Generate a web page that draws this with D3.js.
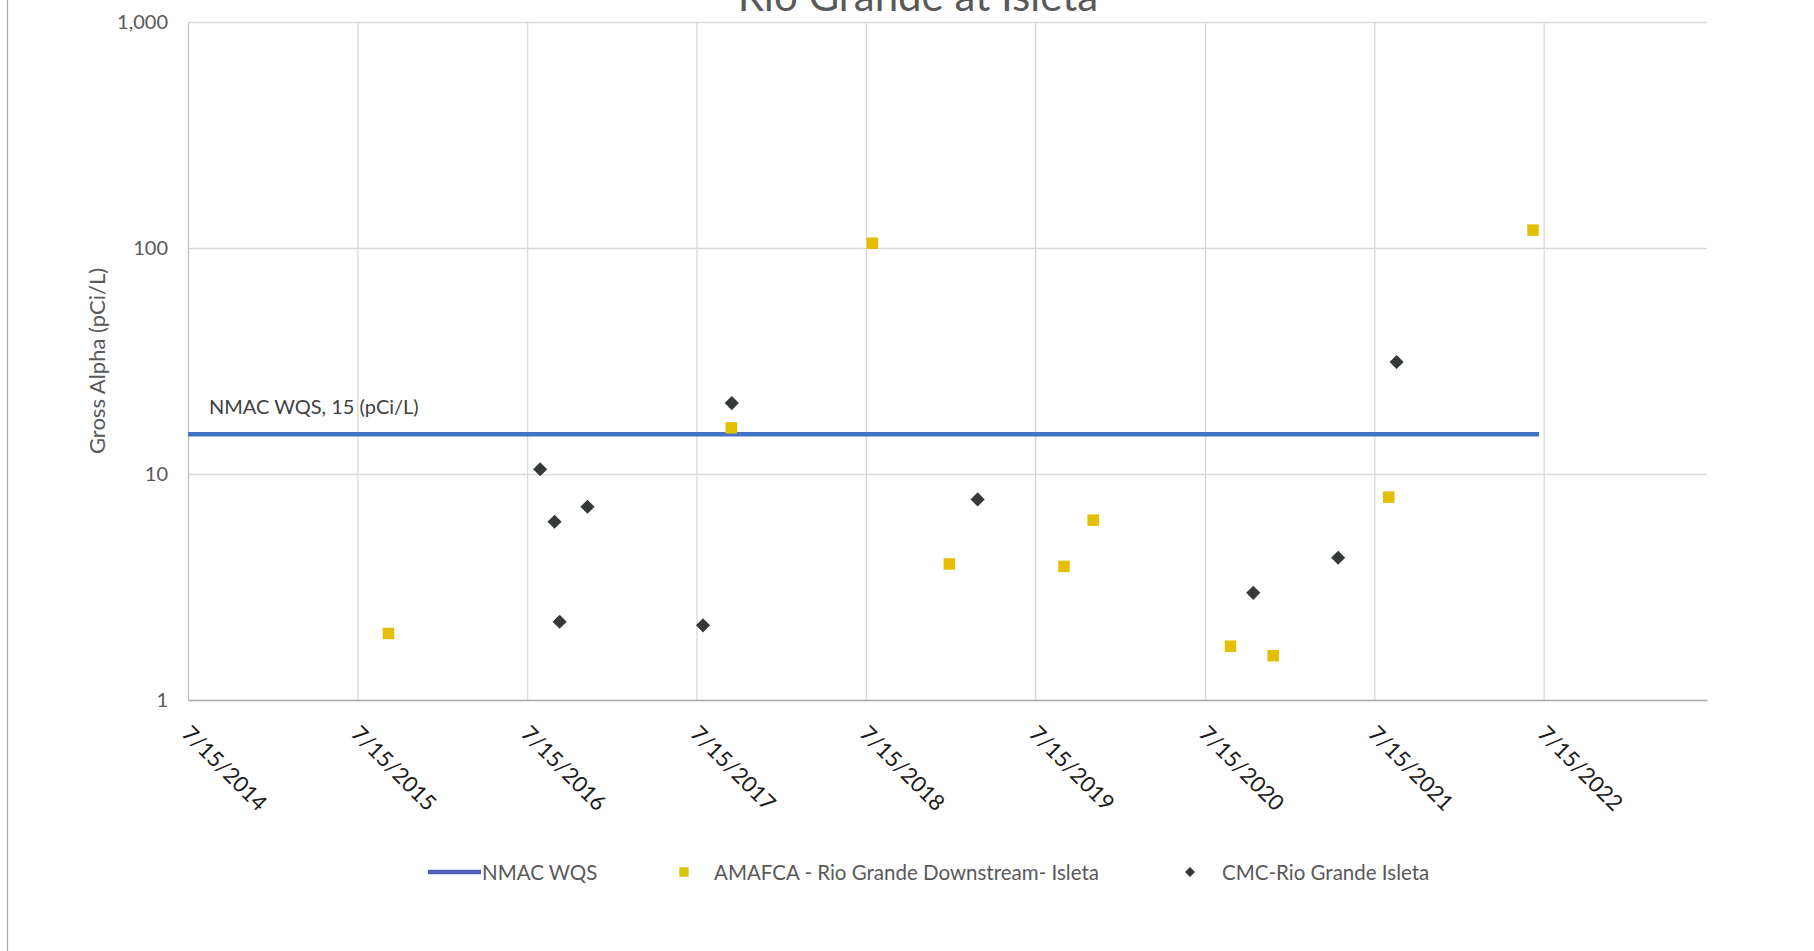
<!DOCTYPE html>
<html>
<head>
<meta charset="utf-8">
<script src="https://cdn.jsdelivr.net/npm/d3@7"></script>
<style>
  html, body { margin: 0; padding: 0; background: #ffffff; }
  svg { display: block; font-family: Lato, "Open Sans", sans-serif; }
</style>
</head>
<body>
<svg id="chart" width="1814" height="951"></svg>
<script>
// Gross alpha sampling results, Rio Grande at Isleta
const amafcaDates  = ["2015-09-20", "2017-09-28", "2018-07-29", "2019-01-11", "2019-09-15",
                      "2019-11-17", "2020-09-08", "2020-12-09", "2021-08-15", "2022-06-22"];
const amafcaValues = [1.97, 16.0, 105, 4.0, 3.9, 6.25, 1.73, 1.57, 7.9, 120];

const cmcDates  = ["2016-08-12", "2016-09-12", "2016-09-23", "2016-11-22", "2017-07-29",
                   "2017-09-29", "2019-03-13", "2020-10-27", "2021-04-28", "2021-09-01"];
const cmcValues = [10.5, 6.15, 2.22, 7.16, 2.14, 20.6, 7.72, 2.98, 4.26, 31.3];

// New Mexico water quality standard for gross alpha
const wqsDates  = ["2014-07-15", "2022-07-05"];
const wqsValues = [15, 15];

const xTickDates  = ["2014-07-15", "2015-07-15", "2016-07-15", "2017-07-15", "2018-07-15",
                     "2019-07-15", "2020-07-15", "2021-07-15", "2022-07-15"];
const xDomain     = ["2014-07-15", "2023-07-02"];
const yTickValues = [1, 10, 100, 1000];
const yTickLabels = ["1", "10", "100", "1,000"];

const seriesNames = ["NMAC WQS", "AMAFCA - Rio Grande Downstream- Isleta", "CMC-Rio Grande Isleta"];
const chartTitle  = "Rio Grande at Isleta";
const yTitle      = "Gross Alpha (pCi/L)";
const wqsLabel    = "NMAC WQS, 15 (pCi/L)";

const parse = d3.utcParse("%Y-%m-%d");
const fmtDate = d3.utcFormat("%-m/%-d/%Y");

const svg = d3.select("#chart");
const W = 1814, H = 951;
const plot = { left: 188, right: 1707, top: 22, bottom: 700 };

const x = d3.scaleUtc().domain(xDomain.map(parse)).range([plot.left, plot.right]);
const y = d3.scaleLog().domain([1, 1000]).range([plot.bottom, plot.top]);

const C = {
  grid: "#d9d9d9",
  axis: "#bfbfbf",
  text: "#595959",
  wqs: "#4472c4",
  amafca: "#e4be00",
  cmc: "#363a36"
};

svg.append("rect").attr("width", W).attr("height", H).attr("fill", "#fff");

// chart area edge on the left
svg.append("line")
  .attr("x1", 7.5).attr("x2", 7.5).attr("y1", 0).attr("y2", H)
  .attr("stroke", "#a6a6a6").attr("stroke-width", 1.2);

// title (sits partly above the top edge)
svg.append("text")
  .attr("x", 918).attr("y", 11)
  .attr("text-anchor", "middle")
  .attr("font-size", 42)
  .attr("fill", C.text)
  .text(chartTitle);

// horizontal gridlines at each decade
const yGrid = d3.axisLeft(y).tickValues(yTickValues.slice(1))
  .tickSize(-(plot.right - plot.left)).tickFormat("");
svg.append("g").attr("transform", `translate(${plot.left},0)`).call(yGrid)
  .call(g => g.select(".domain").remove())
  .call(g => g.selectAll("line").attr("stroke", C.grid).attr("stroke-width", 1.3));

// vertical gridlines at each year
const xGrid = d3.axisBottom(x).tickValues(xTickDates.slice(1).map(parse))
  .tickSize(-(plot.bottom - plot.top)).tickFormat("");
svg.append("g").attr("transform", `translate(0,${plot.bottom})`).call(xGrid)
  .call(g => g.select(".domain").remove())
  .call(g => g.selectAll("line").attr("stroke", C.grid).attr("stroke-width", 1.3));

// y axis: line and labels
const yAxis = d3.axisLeft(y).tickValues(yTickValues).tickSize(0).tickPadding(20)
  .tickFormat((d, i) => yTickLabels[i]);
svg.append("g").attr("transform", `translate(${plot.left},0)`).call(yAxis)
  .call(g => g.select(".domain").attr("stroke", C.axis).attr("stroke-width", 1.3))
  .call(g => g.selectAll("text").attr("fill", C.text).attr("font-size", 20)
    .attr("font-family", "Lato, 'Open Sans', sans-serif"));

// x axis: line and rotated date labels
const xAxis = d3.axisBottom(x).tickValues(xTickDates.map(parse)).tickSize(0).tickFormat(fmtDate);
svg.append("g").attr("transform", `translate(0,${plot.bottom})`).call(xAxis)
  .call(g => g.select(".domain").attr("stroke", "#a6a6a6").attr("stroke-width", 1.5))
  .call(g => g.selectAll(".tick text")
    .attr("fill", "#1a1a1a").attr("font-size", 22)
    .attr("font-family", "Lato, 'Open Sans', sans-serif")
    .attr("text-anchor", "start")
    .attr("dy", null).attr("y", 0)
    .attr("transform", "translate(-8,35) rotate(45)"));

// y axis title
svg.append("text")
  .attr("transform", `translate(96,361) rotate(-90)`)
  .attr("text-anchor", "middle").attr("dominant-baseline", "central")
  .attr("font-size", 22).attr("fill", C.text)
  .text(yTitle);

// standard line
const wqsData = wqsDates.map((d, i) => ({ date: parse(d), value: wqsValues[i] }));
svg.append("path")
  .datum(wqsData)
  .attr("fill", "none").attr("stroke", C.wqs).attr("stroke-width", 4.5)
  .attr("d", d3.line().x(d => x(d.date)).y(d => y(d.value)));

svg.append("text")
  .attr("x", 209).attr("y", 414)
  .attr("font-size", 20).attr("fill", "#404040")
  .text(wqsLabel);

// AMAFCA samples: squares
const amafca = amafcaDates.map((d, i) => ({ date: parse(d), value: amafcaValues[i] }));
svg.append("g").selectAll("path").data(amafca).join("path")
  .attr("transform", d => `translate(${x(d.date)},${y(d.value)})`)
  .attr("d", d3.symbol(d3.symbolSquare, 132)())
  .attr("fill", C.amafca);

// CMC samples: diamonds
const cmc = cmcDates.map((d, i) => ({ date: parse(d), value: cmcValues[i] }));
svg.append("g").selectAll("path").data(cmc).join("path")
  .attr("transform", d => `translate(${x(d.date)},${y(d.value)}) rotate(45)`)
  .attr("d", d3.symbol(d3.symbolSquare, 100)())
  .attr("fill", C.cmc);

// legend
const legY = 872;
const leg = svg.append("g").attr("font-size", 20.5).attr("fill", C.text);
leg.append("line").attr("x1", 428).attr("x2", 481).attr("y1", legY).attr("y2", legY)
  .attr("stroke", "#4f5fbf").attr("stroke-width", 4.5);
leg.append("text").attr("x", 482).attr("y", legY).attr("dominant-baseline", "central")
  .attr("fill", C.text).text(seriesNames[0]);
leg.append("path").attr("transform", `translate(684,${legY})`)
  .attr("d", d3.symbol(d3.symbolSquare, 90)()).attr("fill", "#d8c400");
leg.append("text").attr("x", 714).attr("y", legY).attr("dominant-baseline", "central")
  .attr("fill", C.text).text(seriesNames[1]);
leg.append("path").attr("transform", `translate(1190,${legY}) rotate(45)`)
  .attr("d", d3.symbol(d3.symbolSquare, 50)()).attr("fill", C.cmc);
leg.append("text").attr("x", 1222).attr("y", legY).attr("dominant-baseline", "central")
  .attr("fill", C.text).text(seriesNames[2]);
</script>
</body>
</html>
